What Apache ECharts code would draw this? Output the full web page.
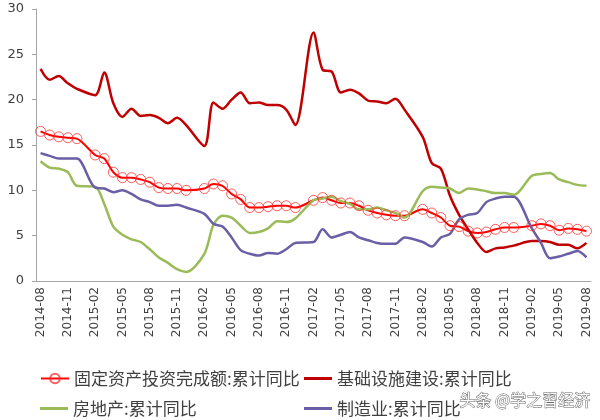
<!DOCTYPE html>
<html lang="zh-CN">
<head>
    <meta charset="utf-8">
    <title>固定资产投资累计同比</title>
    <script src="https://cdn.jsdelivr.net/npm/echarts@6/dist/echarts.min.js"></script>
    <style>
        html, body { margin: 0; padding: 0; background: #fff; }
        #chart { width: 600px; height: 420px; }
    </style>
</head>
<body>
    <div id="chart"></div>
    <script>
        // 月份（1月无数据，为空）
        var months = [
            '2014-08','2014-09','2014-10','2014-11','2014-12','2015-01','2015-02','2015-03','2015-04','2015-05','2015-06','2015-07',
            '2015-08','2015-09','2015-10','2015-11','2015-12','2016-01','2016-02','2016-03','2016-04','2016-05','2016-06','2016-07',
            '2016-08','2016-09','2016-10','2016-11','2016-12','2017-01','2017-02','2017-03','2017-04','2017-05','2017-06','2017-07',
            '2017-08','2017-09','2017-10','2017-11','2017-12','2018-01','2018-02','2018-03','2018-04','2018-05','2018-06','2018-07',
            '2018-08','2018-09','2018-10','2018-11','2018-12','2019-01','2019-02','2019-03','2019-04','2019-05','2019-06','2019-07',
            '2019-08'
        ];

        var fixedAsset = [16.5,16.1,15.9,15.8,15.7,null,13.9,13.5,12.0,11.4,11.4,11.2,10.9,10.3,10.2,10.2,10.0,null,
            10.2,10.7,10.5,9.6,9.0,8.1,8.1,8.2,8.3,8.3,8.1,null,8.9,9.2,8.9,8.6,8.6,8.3,7.8,7.5,7.3,7.2,7.2,null,
            7.9,7.5,7.0,6.1,6.0,5.5,5.3,5.4,5.7,5.9,5.9,null,6.1,6.3,6.1,5.6,5.8,5.7,5.5];

        var infra = [23.4,22.2,22.6,21.8,21.2,null,20.5,23.0,19.6,18.1,19.0,18.2,18.3,18.0,17.4,18.0,17.2,null,
            14.9,19.7,19.0,20.0,20.8,19.6,19.7,19.4,19.4,18.9,17.2,null,27.4,23.3,23.1,20.8,21.1,20.7,19.9,19.8,19.6,20.1,18.9,null,
            15.9,13.0,12.4,9.4,7.3,5.7,4.2,3.2,3.6,3.7,3.9,null,4.4,4.4,4.3,4.0,4.0,3.6,4.2];

        var realEstate = [13.2,12.5,12.4,12.0,10.5,null,10.4,8.5,6.0,5.1,4.6,4.3,3.5,2.6,2.0,1.3,1.0,null,
            3.0,6.2,7.2,7.0,6.1,5.3,5.4,5.8,6.6,6.5,6.9,null,8.9,9.1,9.3,8.8,8.5,7.9,7.9,8.1,7.8,7.5,7.0,null,
            9.9,10.4,10.3,10.2,9.7,10.2,10.1,9.9,9.7,9.7,9.5,null,11.6,11.8,11.9,11.2,10.9,10.6,10.5];

        var manufacturing = [14.1,13.8,13.5,13.5,13.5,null,10.3,10.2,9.8,10.0,9.6,9.0,8.7,8.3,8.3,8.4,8.1,null,
            7.4,6.3,6.0,4.8,3.4,3.0,2.8,3.1,3.0,3.5,4.2,null,4.3,5.7,4.8,5.1,5.4,4.8,4.5,4.2,4.1,4.1,4.8,null,
            4.3,3.8,4.8,5.2,6.8,7.3,7.5,8.7,9.1,9.3,9.3,null,5.8,4.2,2.5,2.7,3.0,3.3,2.6];

        var names = ['固定资产投资完成额:累计同比', '基础设施建设:累计同比', '房地产:累计同比', '制造业:累计同比'];

        var legendText = { fontFamily: 'Noto Sans CJK SC', fontSize: 17, color: '#404040' };
        // 每个图例单独摆放，排成两行两列
        function legendAt(name, left, top, lineOnly) {
            var l = {
                data: [name], left: left, top: top, padding: 0,
                itemWidth: 28, itemHeight: 12, itemGap: 0,
                textStyle: legendText
            };
            if (lineOnly) {
                l.icon = 'rect';
                l.itemHeight = 3;
            }
            return l;
        }

        var chart = echarts.init(document.getElementById('chart'));
        chart.setOption({
            animation: false,
            backgroundColor: '#fff',
            grid: { left: 36, right: 9, top: 9, bottom: 139 },
            legend: [
                legendAt(names[0], 40, 370),
                legendAt(names[1], 304, 370, true),
                legendAt(names[2], 40, 400, true),
                legendAt(names[3], 304, 400, true)
            ],
            graphic: [{
                type: 'text', left: 459, top: 391,
                style: {
                    text: '头条 @学之習经济', fontSize: 16, fontFamily: 'Noto Sans CJK SC',
                    fill: '#ffffff', stroke: '#666', lineWidth: 1
                }
            }],
            xAxis: {
                type: 'category',
                data: months,
                boundaryGap: true,
                axisLine: { lineStyle: { color: '#a6a6a6' } },
                axisTick: { interval: 2, length: 5, lineStyle: { color: '#a6a6a6' } },
                axisLabel: {
                    interval: 2, rotate: 90, margin: 6,
                    fontFamily: 'DejaVu Sans', fontSize: 12, color: '#404040'
                },
                splitLine: { show: false }
            },
            yAxis: {
                type: 'value',
                min: 0, max: 30, interval: 5,
                axisLine: { show: true, lineStyle: { color: '#a6a6a6' } },
                axisTick: { show: true, length: 4, lineStyle: { color: '#a6a6a6' } },
                axisLabel: { margin: 12, fontFamily: 'DejaVu Sans', fontSize: 13, color: '#404040' },
                splitLine: { show: false }
            },
            series: [
                {
                    name: names[0], type: 'line', data: fixedAsset,
                    smooth: 0.3, connectNulls: true,
                    symbol: 'circle', symbolSize: 10, showAllSymbol: true,
                    itemStyle: { color: 'rgba(255,255,255,0)', borderColor: 'rgba(255,40,40,0.75)', borderWidth: 1 },
                    lineStyle: { color: '#ff0000', width: 2 }
                },
                {
                    name: names[1], type: 'line', data: infra,
                    smooth: 0.3, connectNulls: true, symbol: 'none',
                    itemStyle: { color: '#c00000' },
                    lineStyle: { color: '#c00000', width: 2.5 }
                },
                {
                    name: names[2], type: 'line', data: realEstate,
                    smooth: 0.3, connectNulls: true, symbol: 'none',
                    itemStyle: { color: '#9bbb59' },
                    lineStyle: { color: '#9bbb59', width: 2.5 }
                },
                {
                    name: names[3], type: 'line', data: manufacturing,
                    smooth: 0.3, connectNulls: true, symbol: 'none',
                    itemStyle: { color: '#6a5fa6' },
                    lineStyle: { color: '#6a5fa6', width: 2.5 }
                }
            ]
        });
    </script>
</body>
</html>
